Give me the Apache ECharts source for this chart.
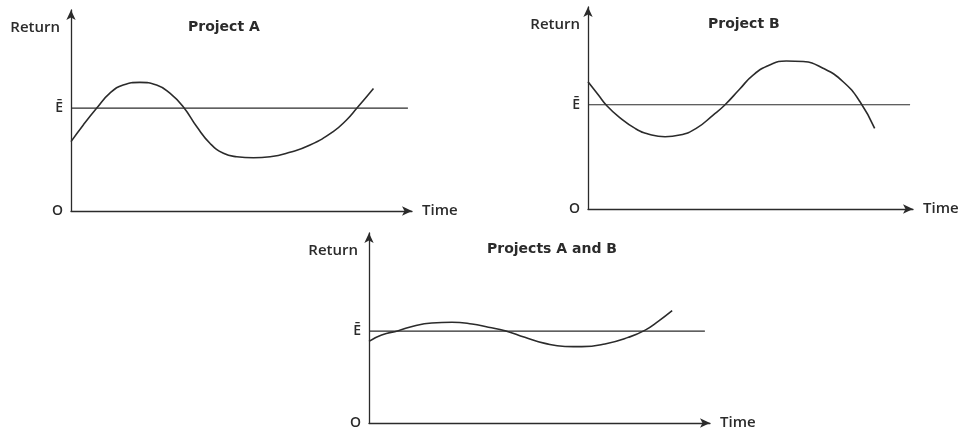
<!DOCTYPE html>
<html><head><meta charset="utf-8">
<script src="https://cdn.jsdelivr.net/npm/echarts@6/dist/echarts.min.js"></script>
<style>html,body{margin:0;padding:0;background:#fff}#c{width:966px;height:441px}</style>
</head><body><div id="c"></div>
<script>
// Panel titles and axis texts
const panelTitles = ['Project A', 'Project B', 'Projects A and B'];
const xAxisName = 'Time';
const yAxisName = 'Return';
const originLabel = 'O';
const expectedLabel = 'Ē';

// Project A (time 0..100, return 0..100 in arbitrary units)
const timeA   = [0, 3.6, 7.5, 11.4, 15.3, 20.2, 25.1, 29.0, 32.9, 36.9, 40.8, 44.7, 48.6, 53.5, 58.4, 64.2, 70.1, 76.9, 80.8, 83.8, 88.7];
const returnA = [34.5, 42.8, 51.1, 58.6, 62.7, 64.0, 62.7, 58.6, 51.9, 41.9, 33.6, 28.7, 27.0, 26.5, 27.0, 29.2, 32.8, 39.5, 45.3, 51.1, 61.0];
const expectedA = 51.2;
const expectedEndA = 98.8;

// Project B
const timeB   = [0, 3.2, 5.8, 9.4, 14.5, 19.6, 23.7, 28.2, 33.3, 38.5, 42.1, 46.7, 50.8, 55.9, 61.0, 66.2, 72.3, 78.5, 83.7, 88.2];
const returnB = [63.0, 56.4, 51.1, 45.7, 39.9, 36.6, 35.8, 36.6, 39.9, 46.5, 51.5, 59.4, 66.3, 71.3, 73.3, 73.0, 69.7, 63.0, 53.1, 39.9];
const expectedB = 51.6;
const expectedEndB = 99.1;

// Projects A and B combined
const timeAB   = [0, 3.7, 8.6, 13.5, 18.4, 24.3, 30.2, 35.0, 39.9, 45.7, 51.6, 57.5, 62.4, 69.2, 76.1, 81.0, 84.9, 88.9];
const returnAB = [43.0, 46.3, 48.6, 51.2, 52.6, 53.0, 52.1, 50.4, 48.6, 45.1, 41.9, 40.3, 40.2, 41.6, 45.1, 48.9, 53.6, 59.1];
const expectedAB = 48.4;
const expectedEndAB = 98.5;

const ink = '#2b2b2b';
const font = 'Open Sans';
const titleFont = 'DejaVu Sans';

function zip(xs, ys) { return xs.map((x, i) => [x, ys[i]]); }

const grids = [
  {left: 71, top: 10, width: 341, height: 201},
  {left: 588, top: 7, width: 325, height: 202},
  {left: 369, top: 233, width: 341, height: 190}
];
const expected = [expectedA, expectedB, expectedAB];
const expectedEnd = [expectedEndA, expectedEndB, expectedEndAB];
const curves = [zip(timeA, returnA), zip(timeB, returnB), zip(timeAB, returnAB)];
const titlePos = [{x: 188, y: 20}, {x: 708, y: 17}, {x: 487, y: 242}];
const returnPad = [11, 8, 11];

const option = {
  backgroundColor: '#fff',
  animation: false,
  title: panelTitles.map((t, i) => ({
    text: t, left: titlePos[i].x, top: titlePos[i].y, padding: 0,
    textStyle: {fontFamily: titleFont, fontWeight: 'bold', fontSize: 14, color: ink}
  })),
  grid: grids,
  xAxis: grids.map((g, i) => ({
    type: 'value', gridIndex: i, min: 0, max: 100,
    name: xAxisName, nameLocation: 'end', nameGap: 10,
    nameTextStyle: {fontFamily: font, fontSize: 15, fontWeight: 600, color: ink},
    axisLine: {onZero: false, symbol: ['none', 'arrow'], symbolSize: [7, 10], lineStyle: {color: ink, width: 1.3}},
    axisTick: {show: false}, axisLabel: {show: false}, splitLine: {show: false}
  })),
  yAxis: grids.map((g, i) => ({
    type: 'value', gridIndex: i, min: 0, max: 100,
    name: yAxisName, nameLocation: 'end', nameGap: -18,
    nameTextStyle: {fontFamily: font, fontSize: 15, fontWeight: 600, color: ink, align: 'right', verticalAlign: 'middle', padding: [0, returnPad[i], 0, 0]},
    axisLine: {onZero: false, symbol: ['none', 'arrow'], symbolSize: [7, 10], lineStyle: {color: ink, width: 1.3}},
    axisTick: {show: false},
    axisLabel: {
      customValues: [0, expected[i]], margin: 8,
      fontFamily: font, fontSize: 14, fontWeight: 600, color: ink,
      formatter: v => (v === 0 ? originLabel : expectedLabel)
    },
    splitLine: {show: false}
  })),
  series: [].concat(...grids.map((g, i) => [
    {
      type: 'line', xAxisIndex: i, yAxisIndex: i, showSymbol: false, silent: true,
      data: [[0, expected[i]], [expectedEnd[i], expected[i]]],
      lineStyle: {color: ink, width: 1.2}
    },
    {
      type: 'line', xAxisIndex: i, yAxisIndex: i, showSymbol: false, silent: true, smooth: true,
      data: curves[i], lineStyle: {color: ink, width: 1.6}
    }
  ]))
};

echarts.init(document.getElementById('c'), null, {renderer: 'canvas'}).setOption(option);
</script></body></html>
